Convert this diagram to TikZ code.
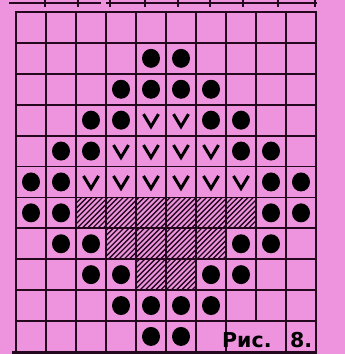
\documentclass[tikz,border=0pt]{standalone}
\usepackage{fontspec}
\newfontfamily\lblfont{DejaVu Sans}
\definecolor{bgpink}{RGB}{238,148,222}
\definecolor{ink}{RGB}{35,8,30}
\begin{document}
\begin{tikzpicture}[x=1pt,y=-1pt,
  gridline/.style={draw=ink,line width=1.8pt,line cap=rect},
  hatchline/.style={draw=ink,line width=1.3pt},
  dotmark/.style={fill=black},
  vmark/.style={draw=black,line width=3pt,line join=miter},
  lbl/.style={font=\lblfont\bfseries\fontsize{20.5}{20.5}\selectfont,text=black,inner sep=0pt,anchor=base west}]
\useasboundingbox (0,0) rectangle (345,354);
\fill[bgpink] (0,0) rectangle (345,354);
% hatched cells
\begin{scope}
\clip (76,197.4) -| (256,228.3) -| (226,259.2) -| (196,290.1) -| (136,259.2) -| (106,228.3) -| (76,197.4) -- cycle;
\foreach \k in {-14,...,60} \draw[hatchline] (5.2*\k,300) -- ++(120,-120);
\end{scope}
% cut-off line of the previous chart
\draw[gridline] (10,3) -- (100,3);
\draw[gridline] (107,3) -- (316,3);
\foreach \x in {45,78,110,145,178,210,243,278,315} \draw[gridline,line cap=butt] (\x,0) -- (\x,7);
% grid
\foreach \i in {0,...,7,9,10} \draw[gridline] (16+30*\i,12) -- (16+30*\i,351);
\draw[gridline] (256,12) -- (256,321.1);
\foreach \j in {0,...,10} \draw[gridline] (16,12+30.9*\j) -- (316,12+30.9*\j);
\draw[gridline,line width=3pt,line cap=butt] (12,352) -- (317,352);
% dots
\foreach \c/\r in {5/2,6/2, 4/3,5/3,6/3,7/3, 3/4,4/4,7/4,8/4, 2/5,3/5,8/5,9/5,
  1/6,2/6,9/6,10/6, 1/7,2/7,9/7,10/7, 2/8,3/8,8/8,9/8, 3/9,4/9,7/9,8/9,
  4/10,5/10,6/10,7/10, 5/11,6/11}
  \fill[dotmark] (1+30*\c,12+30.9*\r-15.45) ellipse [x radius=9,y radius=9.5];
% V marks
\foreach \c/\r in {5/4,6/4, 4/5,5/5,6/5,7/5, 3/6,4/6,5/6,6/6,7/6,8/6}
  \draw[vmark] (1+30*\c-7.5,12+30.9*\r-15.45-6) -- (1+30*\c,12+30.9*\r-15.45+6.5) -- (1+30*\c+7.5,12+30.9*\r-15.45-6);
% label
\node[lbl] (ris) at (222,347) {Рис.};
\node[lbl] (num) at (290,347) {8.};
\end{tikzpicture}
\end{document}
